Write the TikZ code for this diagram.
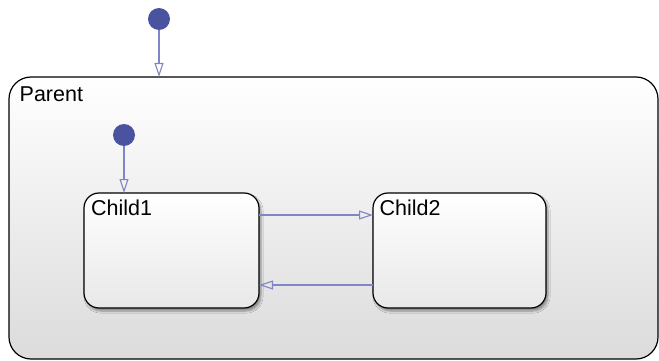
\documentclass[tikz,border=0pt]{standalone}
\usepackage{fontspec}
\setmainfont{Liberation Sans}
\usetikzlibrary{arrows.meta,shadows.blur}
\definecolor{dotblue}{HTML}{4A539F}
\definecolor{wireblue}{HTML}{7F86C4}
\tikzset{
  statebox/.style={draw=black, line width=1.2pt, rounded corners=#1},
  initdot/.style={circle, fill=dotblue, inner sep=0pt, minimum size=22pt},
  wire/.style={draw=wireblue, line width=1.3pt, -{Triangle[open, length=14pt, width=9pt, line width=1.1pt]}},
  lbl/.style={font=\fontsize{21.5}{22}\selectfont, anchor=base west, inner sep=0pt},
}
\begin{document}
\begin{tikzpicture}[x=1pt, y=-1pt]
\useasboundingbox (0,0) rectangle (659,361);
% parent state
\shade[top color=white, bottom color=black!14, rounded corners=22pt] (9,77) rectangle (658,359);
\draw[statebox=22pt] (9,77) rectangle (658,359);
\node[lbl] (parentlbl) at (19.5,102) {Parent};
% child states
\coordinate (c1nw) at (84,193);
\coordinate (c1se) at (259,308);
\coordinate (c2nw) at (373,193);
\coordinate (c2se) at (546,308);
\fill[black!35, rounded corners=15pt, blur shadow={shadow xshift=2pt, shadow yshift=-3pt, shadow blur steps=6}] (84,193) rectangle (259,308);
\fill[black!35, rounded corners=15pt, blur shadow={shadow xshift=2pt, shadow yshift=-3pt, shadow blur steps=6}] (373,193) rectangle (546,308);
\shade[top color=white, bottom color=black!9, rounded corners=15pt] (c1nw) rectangle (c1se);
\draw[statebox=15pt] (c1nw) rectangle (c1se);
\shade[top color=white, bottom color=black!9, rounded corners=15pt] (c2nw) rectangle (c2se);
\draw[statebox=15pt] (c2nw) rectangle (c2se);
\node[lbl] (child1) at (91,215.5) {Child1};
\node[lbl] (child2) at (379.5,215.5) {Child2};
% default transitions
\node[initdot] (top) at (159,19) {};
\coordinate (topend) at (159,77);
\draw[wire] (top) -- (topend);
\node[initdot] (inner) at (124,135) {};
\coordinate (innerend) at (124,193);
\draw[wire] (inner) -- (innerend);
% transitions between children
\coordinate (a1) at (259,215);
\coordinate (a2) at (373,215);
\coordinate (b1) at (373,285);
\coordinate (b2) at (259,285);
\draw[wire] (a1) -- (a2);
\draw[wire] (b1) -- (b2);
\end{tikzpicture}
\end{document}
